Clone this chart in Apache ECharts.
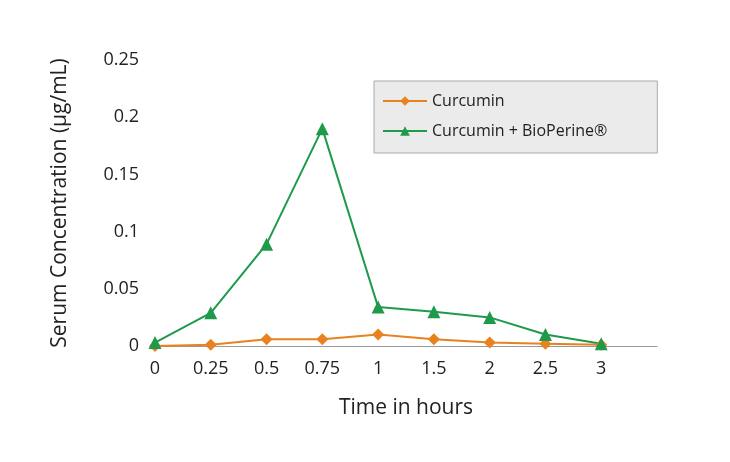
<!DOCTYPE html>
<html><head><meta charset="utf-8">
<script src="https://cdn.jsdelivr.net/npm/echarts@6/dist/echarts.min.js"></script>
<style>body{margin:0;background:#fff}#c{width:730px;height:462px}</style></head>
<body><div id="c"></div>
<script>
const categories = ['0','0.25','0.5','0.75','1','1.5','2','2.5','3',''];
const curcumin = [0, 0.001, 0.006, 0.006, 0.01, 0.006, 0.003, 0.002, 0.001];
const bioperine = [0.003, 0.029, 0.089, 0.19, 0.034, 0.030, 0.025, 0.010, 0.002];
const yTicks = [0, 0.05, 0.1, 0.15, 0.2, 0.25];
const chart = echarts.init(document.getElementById('c'));
const font = 'Open Sans';
chart.setOption({
  animation:false,
  grid:{left:155,right:73,top:60,bottom:116},
  legend:{orient:'vertical',left:374,top:81,width:240,itemGap:14,padding:[12,50,14,8],
    backgroundColor:'#ebebeb',borderColor:'#aaa',borderWidth:1,itemWidth:44,itemHeight:12,
    textStyle:{fontFamily:font,fontSize:16,color:'#222'},
    data:[{name:'Curcumin'},{name:'Curcumin + BioPerine®'}]},
  xAxis:{type:'category',data:categories,boundaryGap:false,name:'Time in hours',nameLocation:'middle',nameGap:52,
    nameTextStyle:{fontFamily:font,fontSize:21,color:'#222'},
    axisLine:{lineStyle:{color:'#999'}},axisTick:{show:false},
    axisLabel:{fontFamily:font,fontSize:18,color:'#222',margin:14},splitLine:{show:false}},
  yAxis:{type:'value',min:0,max:0.25,interval:0.05,name:'Serum Concentration (µg/mL)',nameLocation:'middle',nameGap:84,
    nameTextStyle:{fontFamily:font,fontSize:21,color:'#222'},
    axisLine:{show:false},axisTick:{show:false},splitLine:{show:false},
    axisLabel:{fontFamily:font,fontSize:18,color:'#222',margin:16,formatter:v=>{const t=yTicks.find(x=>Math.abs(x-v)<1e-9);return String(t!==undefined?t:v);}}},
  series:[
    {name:'Curcumin',type:'line',data:curcumin,symbol:'diamond',symbolSize:12,
      lineStyle:{color:'#e8821e',width:2},itemStyle:{color:'#e8821e'}},
    {name:'Curcumin + BioPerine®',type:'line',data:bioperine,symbol:'triangle',symbolSize:13,
      lineStyle:{color:'#1e9a4a',width:2},itemStyle:{color:'#1e9a4a'}}
  ]
});
</script></body></html>
